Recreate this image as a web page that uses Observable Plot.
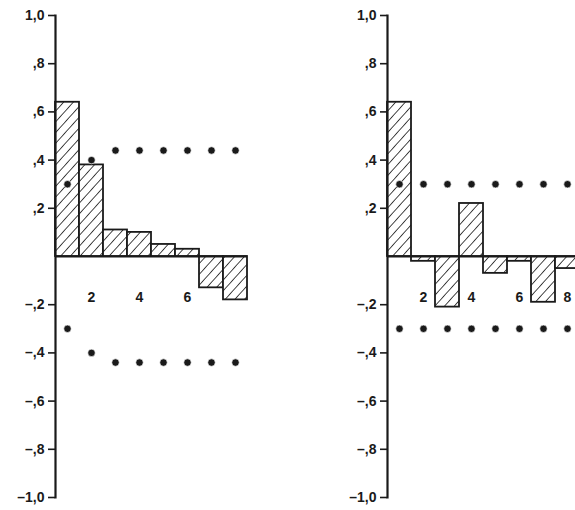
<!DOCTYPE html>
<html>
<head>
<meta charset="utf-8">
<script src="https://cdn.jsdelivr.net/npm/d3@7"></script>
<script src="https://cdn.jsdelivr.net/npm/@observablehq/plot@0.6"></script>
<style>
  html, body { margin: 0; padding: 0; background: #fff; overflow: hidden; }
  #wrap { display: flex; width: 575px; height: 510px; overflow: hidden; }
  #wrap > svg, #wrap > figure { flex: 0 0 auto; margin: 0; }
</style>
</head>
<body>
<svg width="0" height="0" style="position:absolute">
  <defs>
    <pattern id="hatch" patternUnits="userSpaceOnUse" width="7.2" height="7.2" patternTransform="rotate(42)">
      <rect width="7.2" height="7.2" fill="#fff"/>
      <line x1="0" y1="-1" x2="0" y2="8.2" stroke="#1a1a1a" stroke-width="1.6"/>
    </pattern>
  </defs>
</svg>
<div id="wrap"></div>
<script>
const lags = [1, 2, 3, 4, 5, 6, 7, 8];
const acfValues = [0.64, 0.38, 0.11, 0.10, 0.05, 0.03, -0.13, -0.18];
const acfBand = [0.30, 0.40, 0.44, 0.44, 0.44, 0.44, 0.44, 0.44];
const pacfValues = [0.64, -0.02, -0.21, 0.22, -0.07, -0.02, -0.19, -0.05];
const pacfBand = [0.30, 0.30, 0.30, 0.30, 0.30, 0.30, 0.30, 0.30];
const yTicks = [1.0, 0.8, 0.6, 0.4, 0.2, -0.2, -0.4, -0.6, -0.8, -1.0];
const yTickLabels = ["1,0", ",8", ",6", ",4", ",2", "\u2013,2", "\u2013,4", "\u2013,6", "\u2013,8", "\u20131,0"];
const leftXTicks = [2, 4, 6];
const rightXTicks = [2, 4, 6, 8];

const ink = "#1a1a1a";
const yLabelOf = new Map(yTicks.map((t, i) => [t, yTickLabels[i]]));

function panel(values, band, xTicks) {
  const bars = lags.map((lag, i) => ({lag, value: values[i]}));
  const dots = lags.flatMap((lag, i) => [{lag, b: band[i]}, {lag, b: -band[i]}]);
  return Plot.plot({
    width: 332,
    height: 510,
    marginLeft: 55,
    marginRight: 85,
    marginTop: 15,
    marginBottom: 13,
    style: {fontFamily: "'Liberation Sans', Arial, sans-serif", fontSize: "14px", color: ink, background: "transparent", overflow: "visible"},
    x: {type: "band", domain: lags, padding: 0, label: null},
    y: {domain: [-1, 1], label: null},
    marks: [
      Plot.barY(bars, {x: "lag", y: "value", fill: "url(#hatch)", stroke: ink, strokeWidth: 1.8}),
      Plot.ruleY([0], {stroke: ink, strokeWidth: 1.8}),
      Plot.dot(dots, {x: "lag", y: "b", r: 3.7, fill: ink, stroke: "#fff", strokeWidth: 0.6}),
      Plot.frame({anchor: "left", stroke: ink, strokeWidth: 2.2}),
      Plot.axisY({ticks: yTicks, tickFormat: d => yLabelOf.get(d) ?? "", tickSize: 7, tickPadding: 4, strokeWidth: 1.6, fontSize: 14, fontWeight: "bold", fill: ink}),
      Plot.axisX({tickSize: 0, tickPadding: 0, tickFormat: d => xTicks.includes(d) ? String(d) : "", dy: -205, fontSize: 14, fontWeight: "bold", fill: ink})
    ]
  });
}

const wrap = document.getElementById("wrap");
wrap.appendChild(panel(acfValues, acfBand, leftXTicks));
wrap.appendChild(panel(pacfValues, pacfBand, rightXTicks));
</script>
</body>
</html>
